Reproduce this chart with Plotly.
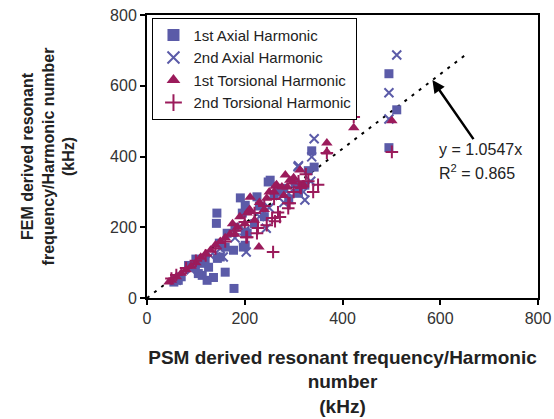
import plotly.graph_objects as go

# 1st Axial Harmonic (squares)
ax1_x = [495, 511, 495, 337, 342, 303, 323, 310, 248, 252, 191, 225, 201, 195, 143, 142, 164, 201, 205, 160,
         197, 177, 201, 150, 144, 119, 113, 99, 85, 126, 136, 113, 123, 64, 160, 178, 105, 148, 270, 290,
         260, 230, 55, 70, 100, 180, 220, 240, 280, 330]
ax1_y = [634, 532, 425, 416, 370, 325, 319, 296, 328, 333, 283, 286, 262, 240, 240, 211, 183, 186, 183, 144,
         144, 135, 149, 116, 112, 107, 98, 87, 92, 87, 58, 64, 50, 50, 73, 27, 69, 155, 300, 280,
         290, 260, 45, 60, 110, 200, 210, 230, 310, 360]
# 2nd Axial Harmonic (x)
ax2_x = [511, 495, 495, 342, 337, 310, 323, 244, 203, 156, 309, 320, 290, 230, 180, 130, 90, 60, 250, 200,
         150, 110, 335, 280]
ax2_y = [687, 580, 506, 450, 399, 374, 277, 197, 130, 116, 371, 300, 295, 230, 170, 120, 80, 50, 255, 190,
         140, 100, 330, 270]
# 1st Torsional Harmonic (triangles)
to1_x = [501, 423, 368, 368, 313, 298, 283, 262, 287, 292, 276, 245, 211, 229, 200, 185, 170, 160, 150, 140,
         130, 120, 110, 100, 90, 80, 70, 60, 50, 45, 190, 210, 230, 250, 265, 300, 320, 175, 205, 220,
         240, 180, 280, 260]
to1_y = [501, 481, 438, 413, 362, 328, 348, 316, 314, 333, 314, 282, 285, 144, 210, 200, 180, 170, 160, 150,
         135, 125, 115, 100, 90, 80, 70, 60, 50, 45, 230, 250, 270, 300, 320, 340, 320, 210, 240, 220,
         250, 180, 290, 300]
# 2nd Torsional Harmonic (plus)
to2_x = [423, 501, 368, 313, 292, 289, 272, 262, 225, 203, 258, 268, 289, 315, 330, 350, 340, 180, 160, 140,
         120, 100, 80, 60, 50, 200, 220, 240, 260, 300, 310, 325, 256, 245, 227, 205]
to2_y = [512, 413, 410, 313, 268, 254, 229, 217, 183, 172, 130, 242, 268, 311, 330, 320, 300, 190, 160, 140,
         120, 105, 85, 65, 55, 215, 240, 260, 280, 300, 330, 350, 226, 206, 198, 172]

slope = 1.0547
r2 = 0.865
trend_x = [0, 655]
trend_y = [slope * v for v in trend_x]

BLUE = "#5B5BA8"
MAG = "#9B1B5B"
FONT = "Arial, Liberation Sans, sans-serif"

fig = go.Figure()
fig.add_trace(go.Scatter(x=trend_x, y=trend_y, mode="lines", showlegend=False,
                         line=dict(color="black", width=2, dash="3px,6px"), hoverinfo="skip"))
fig.add_trace(go.Scatter(x=ax1_x, y=ax1_y, mode="markers", name="1st Axial Harmonic",
                         marker=dict(symbol="square", size=9, color=BLUE)))
fig.add_trace(go.Scatter(x=ax2_x, y=ax2_y, mode="markers", name="2nd Axial Harmonic",
                         marker=dict(symbol="x-thin", size=9, color=BLUE, line=dict(color=BLUE, width=2))))
fig.add_trace(go.Scatter(x=to1_x, y=to1_y, mode="markers", name="1st Torsional Harmonic",
                         marker=dict(symbol="triangle-up", size=10, color=MAG)))
fig.add_trace(go.Scatter(x=to2_x, y=to2_y, mode="markers", name="2nd Torsional Harmonic",
                         marker=dict(symbol="cross-thin", size=9, color=MAG, line=dict(color=MAG, width=2))))

axis_common = dict(range=[0, 800], dtick=200, showgrid=False, zeroline=False, automargin=False,
                   showline=True, linecolor="black", linewidth=2, mirror=True,
                   ticks="outside", ticklen=5, tickwidth=2, tickcolor="black",
                   tickfont=dict(family=FONT, size=16, color="#333"))

fig.update_layout(
    width=554, height=419,
    margin=dict(l=147, r=16, t=15, b=121),
    plot_bgcolor="white", paper_bgcolor="white",
    font=dict(family=FONT, color="#222"),
    xaxis=dict(**axis_common,
               title=dict(text="<b>PSM derived resonant frequency/Harmonic<br>number<br>(kHz)</b>",
                          font=dict(size=19, color="#222"), standoff=24)),
    yaxis=dict(**axis_common,
               title=dict(text="<b>FEM derived resonant<br>frequency/Harmonic number<br>(kHz)</b>",
                          font=dict(size=16, color="#222"), standoff=31)),
    legend=dict(x=0.014, y=0.99, xanchor="left", yanchor="top",
                bordercolor="black", borderwidth=1, bgcolor="white",
                font=dict(size=15, color="#222"), tracegroupgap=0, itemsizing="constant"),
    showlegend=True,
)

# Equation text carries the arrow pointing at the trend line
fig.add_annotation(x=584, y=slope * 584, xref="x", yref="y", text=f"y = {slope}x", showarrow=True,
                   ax=48, ay=69, arrowhead=2, arrowsize=1, arrowwidth=2.5, arrowcolor="black",
                   font=dict(size=16, color="#222"))
fig.add_annotation(x=593, y=356, xref="x", yref="y", text=f"R<sup>2</sup> = {r2}", showarrow=False,
                   xanchor="left", yanchor="middle", font=dict(size=16, color="#222"))

fig.write_html("out.html")
